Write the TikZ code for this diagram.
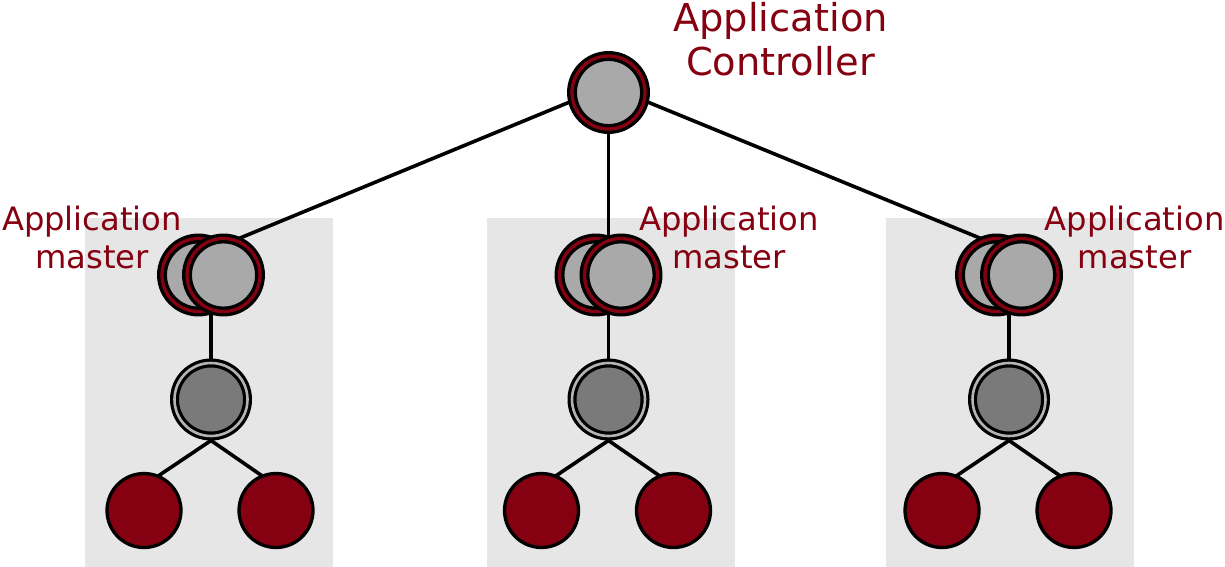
\documentclass[tikz,border=0pt]{standalone}
\usepackage{fontspec}
\setmainfont{DejaVu Sans}
\usepackage{tikz}
\usepackage{xcolor}
\tikzset{>=latex}
\usetikzlibrary{calc,positioning}
\definecolor{amred}{HTML}{850010}
\definecolor{amgray}{HTML}{A9A9A9}
\definecolor{wkgray}{HTML}{7A7A7A}
\definecolor{wkring}{HTML}{B4B4B4}
\definecolor{boxgray}{HTML}{E6E6E6}
\pgfdeclarelayer{boxes}
\pgfdeclarelayer{wires}
\pgfsetlayers{boxes,wires,main}
\tikzset{
  ctrl/.style={circle, draw=black, line width=1.65pt, double=amred, double distance=1.65pt,
    fill=amgray, minimum size=36.5pt, inner sep=0pt, outer sep=0pt},
  worker/.style={circle, draw=black, line width=1.6pt, double=wkring, double distance=1.3pt,
    fill=wkgray, minimum size=36.5pt, inner sep=0pt, outer sep=0pt},
  task/.style={circle, draw=black, line width=1.65pt, fill=amred,
    minimum size=37pt, inner sep=0pt, outer sep=0pt},
  biglbl/.style={text=amred, align=center, inner sep=0pt, font=\fontsize{19.2}{22}\selectfont},
  lbl/.style={text=amred, align=center, inner sep=0pt, font=\fontsize{16.1}{19}\selectfont},
  wire/.style={line width=1.8pt},
  cell/.style={fill=boxgray}
}

\begin{document}
\begin{tikzpicture}[x=0.5pt, y=-0.5pt]
  \useasboundingbox (0, 0) rectangle (1225, 567);

  % controller
  \node[ctrl] (ac) at (608.5, 92.5) {};
  \node[biglbl] (aclbl) at (780.5, 39) {Application\\Controller};

  % group 1
  \coordinate (g1) at (211, 275);
  \node[ctrl] (am1b) at ($(g1)+(-12.5, 0)$) {};
  \node[ctrl] (am1) at ($(g1)+(12.5, 0)$) {};
  \node[lbl] (am1lbl) at (92, 237) {Application\\master};
  \node[worker] (wk1) at (211, 399.5) {};
  \node[task] (t1a) at (144, 510.5) {};
  \node[task] (t1b) at (276, 510.5) {};

  % group 2
  \coordinate (g2) at (608.5, 275);
  \node[ctrl] (am2b) at ($(g2)+(-12.5, 0)$) {};
  \node[ctrl] (am2) at ($(g2)+(12.5, 0)$) {};
  \node[lbl] (am2lbl) at (729, 237) {Application\\master};
  \node[worker] (wk2) at (608.5, 399.5) {};
  \node[task] (t2a) at (541.5, 510.5) {};
  \node[task] (t2b) at (673.5, 510.5) {};

  % group 3
  \coordinate (g3) at (1009, 275);
  \node[ctrl] (am3b) at ($(g3)+(-12.5, 0)$) {};
  \node[ctrl] (am3) at ($(g3)+(12.5, 0)$) {};
  \node[lbl] (am3lbl) at (1134.5, 237) {Application\\master};
  \node[worker] (wk3) at (1009, 399.5) {};
  \node[task] (t3a) at (942, 510.5) {};
  \node[task] (t3b) at (1074, 510.5) {};

  \begin{pgfonlayer}{wires}
    \draw[wire] ($(ac)+(0, -6.5)$) -- ($(g1)+(0, -25)$);
    \draw[wire] (ac) -- (g2);
    \draw[wire] ($(ac)+(0, -6.5)$) -- ($(g3)+(0, -25)$);
    \draw[wire] (g1) -- (wk1);
    \draw[wire] (g2) -- (wk2);
    \draw[wire] (g3) -- (wk3);
    \draw[wire] ($(wk1)+(0, 41)$) -- ($(t1a)+(0, -25)$);
    \draw[wire] ($(wk1)+(0, 41)$) -- ($(t1b)+(0, -25)$);
    \draw[wire] ($(wk2)+(0, 41)$) -- ($(t2a)+(0, -25)$);
    \draw[wire] ($(wk2)+(0, 41)$) -- ($(t2b)+(0, -25)$);
    \draw[wire] ($(wk3)+(0, 41)$) -- ($(t3a)+(0, -25)$);
    \draw[wire] ($(wk3)+(0, 41)$) -- ($(t3b)+(0, -25)$);
  \end{pgfonlayer}

  \begin{pgfonlayer}{boxes}
    \fill[cell] (85, 218) rectangle (333, 567);
    \fill[cell] (487, 218) rectangle (735, 567);
    \fill[cell] (886, 218) rectangle (1134, 567);
  \end{pgfonlayer}
\end{tikzpicture}
\end{document}
